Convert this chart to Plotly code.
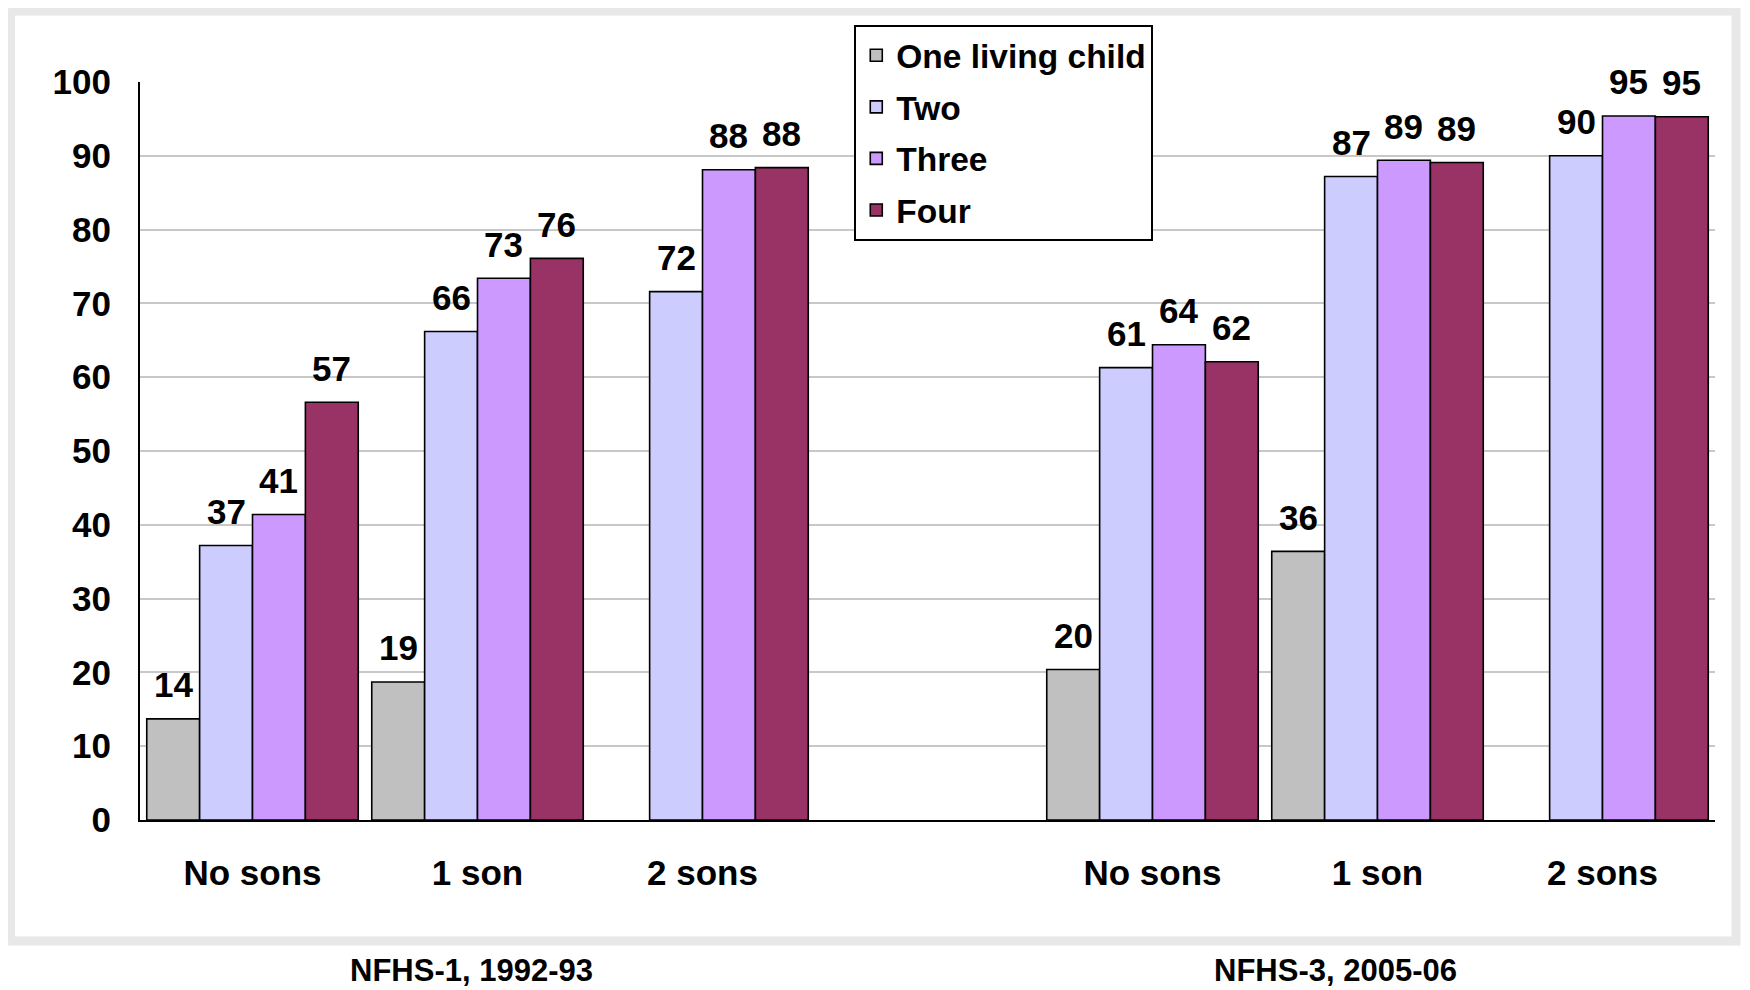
import plotly.graph_objects as go

# ---- data ----
categories = ["n1_no", "n1_one", "n1_two", "gap", "n3_no", "n3_one", "n3_two"]
category_labels = ["No sons", "1 son", "2 sons", "", "No sons", "1 son", "2 sons"]
series_names = ["One living child", "Two", "Three", "Four"]
one_child = [13.7, 18.7, None, None, 20.4, 36.4, None]
two = [37.2, 66.2, 71.6, None, 61.3, 87.2, 90.0]
three = [41.4, 73.4, 88.1, None, 64.4, 89.4, 95.4]
four = [56.6, 76.1, 88.4, None, 62.1, 89.1, 95.3]
survey_labels = ["NFHS-1, 1992-93", "NFHS-3, 2005-06"]
y_ticks = list(range(0, 101, 10))

colors = ["#C0C0C0", "#CCCCFF", "#CC99FF", "#993366"]
FONT = "Liberation Sans, Arial, sans-serif"

# figure pixel geometry (page has an 8px body margin)
W, H = 1742, 982
L, R, T, B = 131.5, 35, 73.5, 170
PW, PH = W - L - R, H - T - B
BARGAP = 0.06


def px_x(px):
    return (px - L) / PW


def px_y(py):
    return (H - B - py) / PH


fig = go.Figure()
all_series = [one_child, two, three, four]
for name, vals, col in zip(series_names, all_series, colors):
    fig.add_trace(go.Bar(
        name=name, x=categories, y=vals,
        marker=dict(color=col, line=dict(color="black", width=1.6)),
        cliponaxis=False,
        legendgroup=name,
        hovertemplate="%{y:.0f}<extra>" + name + "</extra>",
    ))

# value labels above each bar
slot_px = PW / len(categories)
bar_px = slot_px * (1 - BARGAP) / len(series_names)
annotations = []
for i, vals in enumerate(all_series):
    shift = (i - (len(series_names) - 1) / 2) * bar_px
    for cat, v in zip(categories, vals):
        if v is None:
            continue
        annotations.append(dict(
            x=cat, y=v, xref="x", yref="y", text=f"{v:.0f}",
            showarrow=False, xanchor="center", yanchor="middle",
            xshift=shift, yshift=34,
            font=dict(family=FONT, size=35, color="black", weight="bold"),
        ))

for lbl, cx in zip(survey_labels, [463, 1327]):
    annotations.append(dict(
        text=lbl, xref="paper", yref="paper", x=px_x(cx), y=px_y(H),
        showarrow=False, xanchor="center", yanchor="bottom",
        font=dict(family=FONT, size=31, color="black", weight="bold"),
    ))

fig.update_layout(
    width=W, height=H,
    margin=dict(l=L, r=R, t=T, b=B),
    paper_bgcolor="white", plot_bgcolor="white",
    barmode="group", bargap=BARGAP, bargroupgap=0,
    font=dict(family=FONT, size=33, color="black", weight="bold"),
    showlegend=True,
    legend=dict(
        x=px_x(846), y=px_y(16.5), xanchor="left", yanchor="top",
        bgcolor="white", bordercolor="black", borderwidth=2,
        font=dict(family=FONT, size=33.5, color="black", weight="bold"),
        tracegroupgap=5,
    ),
    xaxis=dict(
        type="category", categoryorder="array", categoryarray=categories,
        tickvals=categories, ticktext=category_labels,
        showline=True, linecolor="black", linewidth=2,
        ticks="outside", ticklen=21, tickcolor="rgba(0,0,0,0)",
        showgrid=False, range=[-0.5, 6.5],
        tickfont=dict(family=FONT, size=35, color="black", weight="bold"),
    ),
    yaxis=dict(
        range=[0, 100], tickvals=y_ticks,
        showline=True, linecolor="black", linewidth=2,
        showgrid=True, gridcolor="#C8C8C8", gridwidth=2,
        ticks="outside", ticklen=20, tickcolor="rgba(0,0,0,0)",
        zeroline=False,
        tickfont=dict(family=FONT, size=35, color="black", weight="bold"),
    ),
    shapes=[dict(
        type="rect", xref="paper", yref="paper",
        x0=px_x(2), x1=px_x(1728), y0=px_y(933), y1=px_y(2.5),
        line=dict(color="#E8E8E8", width=9), fillcolor="rgba(0,0,0,0)", layer="below",
    )],
    annotations=annotations,
)

fig.write_html("out.html")
